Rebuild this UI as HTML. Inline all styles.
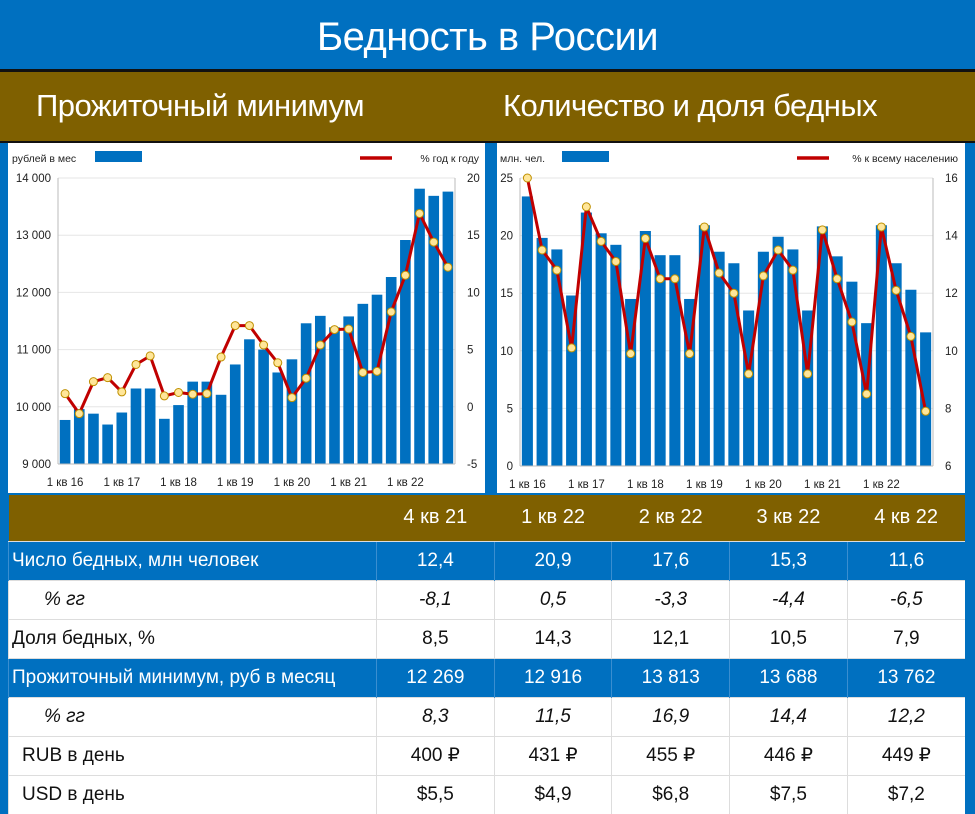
<!DOCTYPE html>
<html><head><meta charset="utf-8">
<style>
*{margin:0;padding:0;box-sizing:border-box}
body{width:975px;height:813px;background:#0070c0;position:relative;overflow:hidden;font-family:"Liberation Sans","DejaVu Sans",sans-serif}
.abs{position:absolute}
#title{left:0;top:2px;width:975px;height:67px;background:#0070c0;color:#fff;font-size:40px;text-align:center;line-height:70px;letter-spacing:-0.5px}
#line1{left:0;top:69px;width:975px;height:3px;background:#111}
#sub{left:0;top:72px;width:975px;height:70px;background:#7f6000}
.st{color:#fff;font-size:31px;top:16px;position:absolute;letter-spacing:-0.5px;white-space:nowrap}
#line2{left:0;top:141px;width:975px;height:2px;background:#111}
table{position:absolute;left:8px;top:495px;width:957px;border-collapse:collapse;font-size:19px}
td{height:39px;text-align:center;border-left:1px solid #ddd;border-top:1px solid #ddd;padding:0;white-space:nowrap}
td:first-child{text-align:left;width:368px;padding-left:3px}
tr.h td{background:#7f6000;color:#fff;height:46px;font-size:20px;border:none}
tr.b td{background:#0070c0;color:#fff;border-left:1px solid #3a8ed0}
tr.w td{background:#fff;color:#111}
.i{font-style:italic}
.bl{color:#2f75c5}.rd{color:#c00000}
</style></head><body>
<div id="title" class="abs">Бедность в России</div>
<div id="line1" class="abs"></div>
<div id="sub" class="abs">
<span class="st" style="left:36px">Прожиточный минимум</span>
<span class="st" style="left:503px">Количество и доля бедных</span>
</div>
<div id="line2" class="abs"></div>
<svg class="abs" style="left:0;top:143px" width="975" height="350" viewBox="0 143 975 350">
<rect x="8" y="143" width="477" height="350" fill="#fff"/>
<rect x="497" y="143" width="468" height="350" fill="#fff"/>
<g id="L"></g><g id="R"></g>
</svg>
<table>
<tr class="h"><td></td><td>4 кв 21</td><td>1 кв 22</td><td>2 кв 22</td><td>3 кв 22</td><td>4 кв 22</td></tr>
<tr class="b"><td>Число бедных, млн человек</td><td>12,4</td><td>20,9</td><td>17,6</td><td>15,3</td><td>11,6</td></tr>
<tr class="w"><td class="i" style="padding-left:35px">% гг</td><td class="i bl">-8,1</td><td class="i rd">0,5</td><td class="i bl">-3,3</td><td class="i bl">-4,4</td><td class="i bl">-6,5</td></tr>
<tr class="w"><td>Доля бедных, %</td><td>8,5</td><td>14,3</td><td>12,1</td><td>10,5</td><td>7,9</td></tr>
<tr class="b"><td>Прожиточный минимум, руб в месяц</td><td>12 269</td><td>12 916</td><td>13 813</td><td>13 688</td><td>13 762</td></tr>
<tr class="w"><td class="i" style="padding-left:35px">% гг</td><td class="i">8,3</td><td class="i">11,5</td><td class="i">16,9</td><td class="i">14,4</td><td class="i">12,2</td></tr>
<tr class="w"><td style="padding-left:13px">RUB в день</td><td>400 ₽</td><td>431 ₽</td><td>455 ₽</td><td>446 ₽</td><td>449 ₽</td></tr>
<tr class="w"><td style="padding-left:13px">USD в день</td><td>$5,5</td><td>$4,9</td><td>$6,8</td><td>$7,5</td><td>$7,2</td></tr>
</table>
<script>
const quarters=["1 кв 16","2 кв 16","3 кв 16","4 кв 16","1 кв 17","2 кв 17","3 кв 17","4 кв 17","1 кв 18","2 кв 18","3 кв 18","4 кв 18","1 кв 19","2 кв 19","3 кв 19","4 кв 19","1 кв 20","2 кв 20","3 кв 20","4 кв 20","1 кв 21","2 кв 21","3 кв 21","4 кв 21","1 кв 22","2 кв 22","3 кв 22","4 кв 22"];
const minWage=[9770,9960,9880,9690,9900,10320,10320,9790,10030,10440,10440,10210,10740,11180,11000,10600,10830,11460,11590,11390,11580,11800,11960,12269,12916,13813,13688,13762];
const minWageYoY=[1.15,-0.6,2.2,2.55,1.3,3.7,4.45,0.95,1.25,1.1,1.15,4.35,7.1,7.1,5.4,3.85,0.8,2.5,5.4,6.75,6.8,3.0,3.1,8.3,11.5,16.9,14.4,12.2];
const poorCount=[23.4,19.8,18.8,14.8,22.0,20.2,19.2,14.5,20.4,18.3,18.3,14.5,20.9,18.6,17.6,13.5,18.6,19.9,18.8,13.5,20.8,18.2,16.0,12.4,20.9,17.6,15.3,11.6];
const poorShare=[16.0,13.5,12.8,10.1,15.0,13.8,13.1,9.9,13.9,12.5,12.5,9.9,14.3,12.7,12.0,9.2,12.6,13.5,12.8,9.2,14.2,12.5,11.0,8.5,14.3,12.1,10.5,7.9];
const leftTicks=["9 000","10 000","11 000","12 000","13 000","14 000"];
const leftTickVals=[9000,10000,11000,12000,13000,14000];
const leftRTicks=[-5,0,5,10,15,20];
const rightTicks=[0,5,10,15,20,25];
const rightRTicks=[6,8,10,12,14,16];
const NS="http://www.w3.org/2000/svg";
function mk(p,t,a){const e=document.createElementNS(NS,t);for(const k in a)e.setAttribute(k,a[k]);p.appendChild(e);return e;}
function chart(g,o){
  const n=quarters.length,pitch=(o.x1-o.x0)/n;
  const yL=v=>o.yb-(v-o.lmin)/(o.lmax-o.lmin)*(o.yb-o.yt);
  const yR=v=>o.yb-(v-o.rmin)/(o.rmax-o.rmin)*(o.yb-o.yt);
  const xC=i=>o.x0+pitch*(i+0.5);
  o.lt.forEach((v,i)=>{const y=yL(v);
    const gl=mk(g,"line",{x1:o.x0,x2:o.x1,y1:y,y2:y,stroke:"#e6e6e6","stroke-width":1});
    
    const t=mk(g,"text",{x:o.x0-7,y:y+4,"text-anchor":"end","font-size":11.5,fill:"#222"});t.textContent=o.ll[i];
    });
  o.rt.forEach(v=>{const y=yR(v);
    const t=mk(g,"text",{x:o.x1+o.rdx,y:y+4,"text-anchor":"start","font-size":11.5,fill:"#222"});t.textContent=v;
    });
  mk(g,"line",{x1:o.x0,x2:o.x0,y1:o.yt,y2:o.yb,stroke:"#bbb"});
  mk(g,"line",{x1:o.x1,x2:o.x1,y1:o.yt,y2:o.yb,stroke:"#bbb"});
  o.bars.forEach((v,i)=>{const y=yL(v);
    const r=mk(g,"rect",{x:xC(i)-pitch*0.375,y:y,width:pitch*0.75,height:o.yb-y,fill:"#0070c0"});
    });
  mk(g,"line",{x1:o.x0,x2:o.x1,y1:o.yb,y2:o.yb,stroke:"#bbb"});
  quarters.forEach((q,i)=>{if(i%4)return;
    const t=mk(g,"text",{x:xC(i),y:o.yb+22,"text-anchor":"middle","font-size":11.5,fill:"#222"});t.textContent=q;
    });
  const pl=mk(g,"polyline",{points:o.line.map((v,i)=>xC(i)+","+yR(v)).join(" "),fill:"none",stroke:"#c00000","stroke-width":3,"stroke-linejoin":"round"});
  
  o.line.forEach((v,i)=>{const c=mk(g,"circle",{cx:xC(i),cy:yR(v),r:4,fill:"#ffe699",stroke:"#bf9000","stroke-width":1});
    });
  const a=mk(g,"text",{x:o.lgx,y:162,"font-size":10.5,fill:"#222"});a.textContent=o.lt1;
  
  const b=mk(g,"rect",{x:o.lrx,y:151,width:47,height:11,fill:"#0070c0"});
  
  const c=mk(g,"line",{x1:o.llx,x2:o.llx+32,y1:158,y2:158,stroke:"#c00000","stroke-width":3.5});
  
  const d=mk(g,"text",{x:o.ltx,y:162,"font-size":10.5,fill:"#222","text-anchor":"end"});d.textContent=o.lt2;
  
}
chart(document.getElementById("L"),{x0:58,x1:455,yt:178,yb:464,lmin:9000,lmax:14000,rmin:-5,rmax:20,lt:leftTickVals,ll:leftTicks,rt:leftRTicks,rdx:12,bars:minWage,line:minWageYoY,lgx:12,lrx:95,llx:360,ltx:479,lt1:"рублей в мес",lt2:"%  год к году"});
chart(document.getElementById("R"),{x0:520,x1:933,yt:178,yb:466,lmin:0,lmax:25,rmin:6,rmax:16,lt:rightTicks,ll:rightTicks.map(String),rt:rightRTicks,rdx:12,bars:poorCount,line:poorShare,lgx:500,lrx:562,llx:797,ltx:958,lt1:"млн. чел.",lt2:"%  к всему населению"});
</script>
</body></html>
